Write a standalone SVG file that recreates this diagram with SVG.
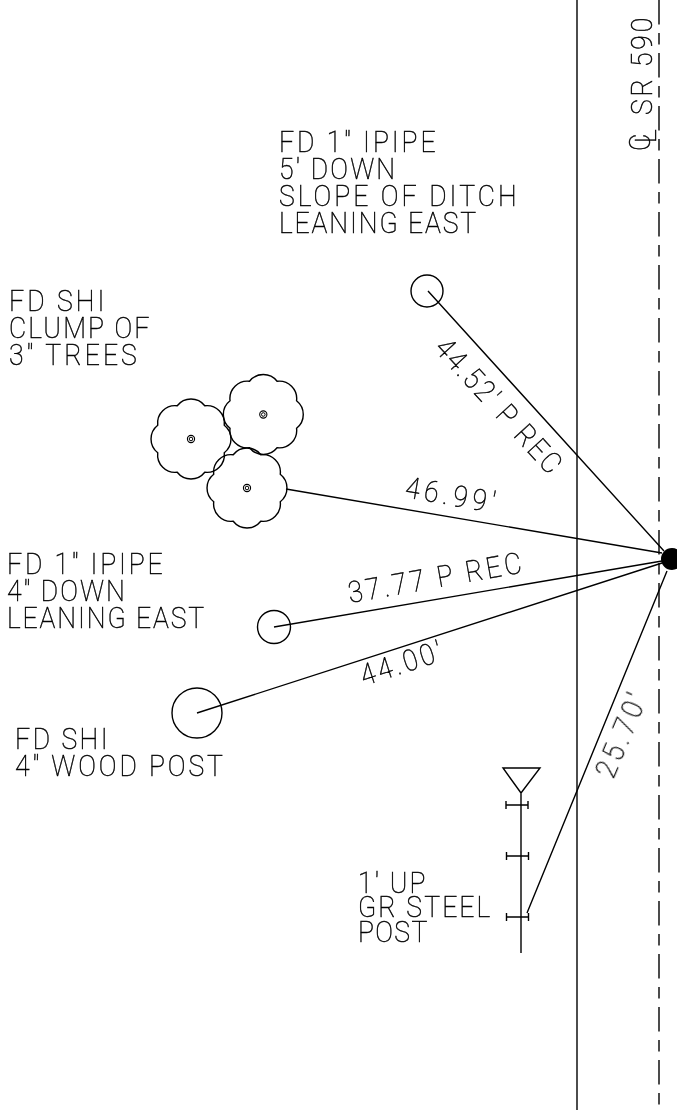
<svg xmlns="http://www.w3.org/2000/svg" width="677" height="1110" viewBox="0 0 677 1110">
<style>
.l{fill:none;stroke:#000;stroke-width:1.4}
.t{font-family:"Roboto","Liberation Sans",sans-serif;font-weight:100;font-size:29.5px;fill:#000;stroke:#000;stroke-width:.5}
#labels{opacity:.99}
</style>
<defs>
<g id="tree">
<path class="l" d="M33.26-13.78A17.5 17.5 0 0 1 33.26 13.78A17.5 17.5 0 0 1 13.78 33.26A17.5 17.5 0 0 1-13.78 33.26A17.5 17.5 0 0 1-33.26 13.78A17.5 17.5 0 0 1-33.26-13.78A17.5 17.5 0 0 1-13.78-33.26A17.5 17.5 0 0 1 13.78-33.26A17.5 17.5 0 0 1 33.26-13.78Z"/>
<circle r="3.6" fill="none" stroke="#000" stroke-width="1.1"/>
<circle r="1.8" fill="none" stroke="#000" stroke-width="1"/>
</g>
</defs>
<g id="connectors">
<path class="l" d="M428 291L664 551M286 489L662 553M274 627L662 561M197 713L662 563M527 913L667 571"/>
</g>
<g id="road"><path class="l" d="M577 0V1110"/><path class="l" d="M659 0V1110" stroke-dasharray="24.5 8.5 11.5 8.5"/></g>
<g id="point"><circle cx="672" cy="559" r="11" fill="#000"/></g>
<g id="ipipe-a"><circle class="l" cx="427" cy="291" r="16"/></g>
<g id="ipipe-b"><circle class="l" cx="274" cy="627" r="16.5"/></g>
<g id="post"><circle class="l" cx="197" cy="713" r="25"/></g>
<g id="trees"><use href="#tree" x="191" y="439"/><use href="#tree" x="263.3" y="414.5"/><use href="#tree" x="247" y="488"/></g>
<g id="guardrail"><path class="l" d="M521 953V793M503 768H540L521 793ZM506 805H528M506.5 856H528.5M506.5 917H528.5M506 801V809M528 801V809M506.5 852V860M528.5 852V860M506.5 913V921M528.5 913V921"/></g>
<g id="labels">
<text class="t" transform="translate(279 152) scale(.9 1)" textLength="174" lengthAdjust="spacing">FD 1" IPIPE</text>
<text class="t" transform="translate(279 179) scale(.9 1)" textLength="129" lengthAdjust="spacing">5' DOWN</text>
<text class="t" transform="translate(279 206) scale(.9 1)" textLength="264" lengthAdjust="spacing">SLOPE OF DITCH</text>
<text class="t" transform="translate(279 233) scale(.9 1)" textLength="219" lengthAdjust="spacing">LEANING EAST</text>
<text class="t" transform="translate(9 311) scale(.9 1)" textLength="106" lengthAdjust="spacing">FD SHI</text>
<text class="t" transform="translate(9 338) scale(.9 1)" textLength="156" lengthAdjust="spacing">CLUMP OF</text>
<text class="t" transform="translate(9 365) scale(.9 1)" textLength="142" lengthAdjust="spacing">3" TREES</text>
<text class="t" transform="translate(7 574) scale(.9 1)" textLength="173" lengthAdjust="spacing">FD 1" IPIPE</text>
<text class="t" transform="translate(7 601) scale(.9 1)" textLength="131" lengthAdjust="spacing">4" DOWN</text>
<text class="t" transform="translate(7 628) scale(.9 1)" textLength="219" lengthAdjust="spacing">LEANING EAST</text>
<text class="t" transform="translate(15 749) scale(.9 1)" textLength="103" lengthAdjust="spacing">FD SHI</text>
<text class="t" transform="translate(15 776) scale(.9 1)" textLength="231" lengthAdjust="spacing">4" WOOD POST</text>
<text class="t" transform="translate(358 893) scale(.9 1)" textLength="75" lengthAdjust="spacing">1' UP</text>
<text class="t" transform="translate(358 917) scale(.9 1)" textLength="147" lengthAdjust="spacing">GR STEEL</text>
<text class="t" transform="translate(358 942) scale(.9 1)" textLength="77" lengthAdjust="spacing">POST</text>
<text class="t" transform="translate(433 349) rotate(47.5) scale(.9 1)" textLength="191" lengthAdjust="spacing">44.52' P REC</text>
<text class="t" transform="translate(404 497) rotate(10) scale(.9 1)" textLength="101" lengthAdjust="spacing">46.99'</text>
<text class="t" transform="translate(350 603) rotate(-10) scale(.9 1)" textLength="195" lengthAdjust="spacing">37.77 P REC</text>
<text class="t" transform="translate(364 686) rotate(-18) scale(.9 1)" textLength="94" lengthAdjust="spacing">44.00'</text>
<text class="t" transform="translate(613 780) rotate(-67) scale(.9 1)" textLength="98" lengthAdjust="spacing">25.70'</text>
<text class="t" transform="translate(652 115) rotate(-90) scale(.9 1)" textLength="108" lengthAdjust="spacing">SR 590</text>
<text class="t" transform="translate(650 151) rotate(-90) scale(.9 1)">C</text>
<text class="t" transform="translate(656 143) rotate(-90) scale(.9 1)">L</text>
</g>
</svg>
